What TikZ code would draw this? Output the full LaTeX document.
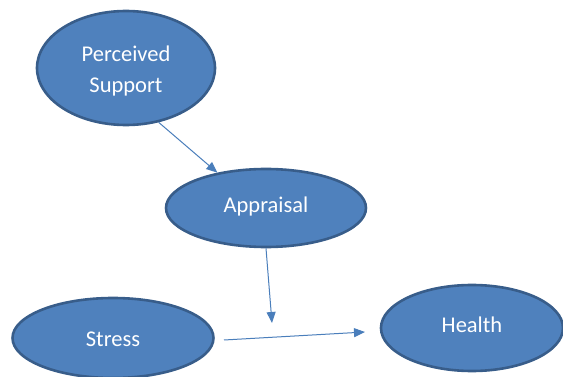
\documentclass[tikz,border=0pt]{standalone}
\usepackage{fontspec}
\setmainfont{Carlito}
\usetikzlibrary{shapes.geometric,arrows.meta}
\definecolor{bubblefill}{HTML}{4F81BD}
\definecolor{bubbleedge}{HTML}{385D8A}
\definecolor{linkblue}{HTML}{4A7EBB}
\begin{document}
\begin{tikzpicture}[x=1pt,y=-1pt,
  bubble/.style={ellipse, draw=bubbleedge, fill=bubblefill, line width=2.6pt,
    inner sep=0pt},
  caption/.style={text=white, align=center, inner sep=0pt,
    font=\fontsize{22.5}{31}\selectfont},
  link/.style={draw=linkblue, line width=1pt,
    -{Triangle[length=11pt,width=9pt]}}]
  \useasboundingbox (0,0) rectangle (563,377);
  % the four concepts
  \node[bubble, minimum width=178pt, minimum height=114pt,
    label={[caption, yshift=-3pt]center:Perceived\\Support}] (ps) at (126,68) {};
  \node[bubble, minimum width=200pt, minimum height=78pt,
    label={[caption, yshift=1pt]center:Appraisal}] (ap) at (266,208) {};
  \node[bubble, minimum width=201pt, minimum height=80pt,
    label={[caption, yshift=-1pt]center:Stress}] (st) at (113,338) {};
  \node[bubble, minimum width=182pt, minimum height=86pt,
    label={[caption, yshift=3pt]center:Health}] (he) at (472,328) {};
  % free ends of the open connectors
  \coordinate (apend) at (272,323);
  \coordinate (ststart) at (224,340);
  \coordinate (stend) at (365,332);
  % connectors
  \draw[link] (ps.-59) -- (ap.144);
  \draw[link] (ap.south) -- (apend);
  \draw[link] (ststart) -- (stend);
\end{tikzpicture}
\end{document}
